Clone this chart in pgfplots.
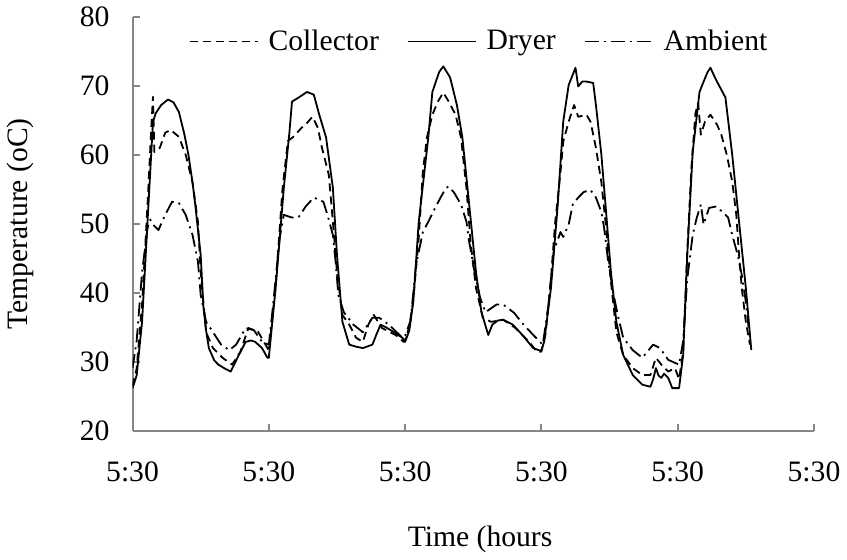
\documentclass[border=0pt]{standalone}
\usepackage{fontspec}
\setmainfont{Liberation Serif}
\usepackage{pgfplots}
\pgfplotsset{compat=1.18}
\definecolor{axgray}{RGB}{134,134,134}
\newcommand{\lab}{\fontsize{14.8}{17}\selectfont}
\begin{document}
\begin{tikzpicture}
\begin{axis}[
  scale only axis, width=340.5pt, height=207pt,
  xmin=0, xmax=5, ymin=20, ymax=80,
  axis x line=bottom, axis y line=left,
  axis line style={axgray, line width=1pt, -},
  tick style={axgray, line width=1pt},
  tick align=inside, major tick length=3.5pt,
  xtick={0,1,2,3,4,5},
  xticklabels={5:30,5:30,5:30,5:30,5:30,5:30},
  ytick={20,30,40,50,60,70,80},
  /pgf/number format/assume math mode=true,
  tick label style={font=\lab},
  xticklabel style={yshift=-12pt},
  yticklabel style={xshift=-8pt},
  xlabel={Time (hours},
  ylabel={Temperature (oC)},
  label style={font=\lab},
  xlabel style={at={(axis description cs:0.51,-0.262)}, anchor=center},
  ylabel style={at={(axis description cs:-0.165,0.5)}, anchor=center},
  legend columns=3,
  legend style={draw=none, fill=none, font=\lab,
    at={(axis description cs:0.51,0.94)}, anchor=center,
    /tikz/every odd column/.append style={column sep=3pt},
    /tikz/every even column/.append style={column sep=12pt}},
  legend image code/.code={\draw[#1] (0pt,0pt) -- (34pt,0pt);},
  every axis plot/.append style={black, line width=0.9pt, line join=round},
]
\addplot[dash pattern=on 4pt off 2.5pt] coordinates {
(0,26.5) (0.03,29) (0.07,38.3) (0.11,52.8) (0.14,64.8) (0.15,68.4) (0.16,60.4)
(0.2,61) (0.24,63.2) (0.28,63.6) (0.34,62.6) (0.39,60) (0.44,56) (0.48,50.3)
(0.5,43) (0.54,34.3) (0.59,32) (0.66,30.6) (0.73,29.6) (0.79,31.4) (0.85,34.9)
(0.92,34.4) (0.99,32) (1.0,31.5) (1.05,41) (1.1,55) (1.14,62) (1.18,62.6)
(1.24,63.9) (1.28,64.6) (1.32,65.5) (1.36,63.9) (1.39,61) (1.44,57.1) (1.47,50.3)
(1.5,43) (1.54,36.8) (1.59,35.4) (1.64,33.5) (1.69,32.9) (1.73,35.4) (1.77,36.8)
(1.83,34.9) (1.93,33.9) (1.99,32.9) (2.0,33.2) (2.03,35) (2.06,39) (2.1,48)
(2.13,57.5) (2.16,62.5) (2.2,65.8) (2.24,67.7) (2.28,69) (2.32,67.7) (2.37,65.8)
(2.41,62.5) (2.45,55.2) (2.48,47.4) (2.52,40.7) (2.57,36.4) (2.63,35.8) (2.72,36.1)
(2.81,34.9) (2.91,32.9) (2.97,31.4) (3.0,31.5) (3.03,34) (3.07,42) (3.1,50)
(3.14,57.5) (3.16,61.9) (3.2,64.8) (3.24,67.2) (3.27,65.5) (3.33,65.8) (3.36,64.8)
(3.4,61) (3.44,56) (3.47,50.3) (3.51,41.6) (3.55,34.3) (3.6,31) (3.67,29.1)
(3.74,28.1) (3.8,28.1) (3.84,30.6) (3.88,29.6) (3.93,28.6) (3.98,29.1) (4.01,27.5)
(4.04,31.5) (4.07,46) (4.1,58) (4.13,66) (4.15,67.5) (4.17,62.9) (4.2,64.8)
(4.24,65.8) (4.29,64.3) (4.32,62.9) (4.36,60) (4.4,56.1) (4.43,51.3) (4.45,45.5)
(4.47,40.7) (4.5,35.8) (4.53,32.5)
};
\addlegendentry{Collector}
\addplot[solid] coordinates {
(0,26.2) (0.03,28) (0.07,35.8) (0.11,50.3) (0.15,64.8) (0.17,66) (0.21,67.2)
(0.26,68) (0.3,67.6) (0.34,66.2) (0.38,63) (0.41,60) (0.44,56) (0.46,52.8)
(0.5,45.5) (0.52,38) (0.54,34.5) (0.56,32) (0.6,30.2) (0.63,29.6) (0.68,29)
(0.72,28.6) (0.75,29.8) (0.78,31) (0.83,32.9) (0.87,33.1) (0.9,32.9) (0.95,32)
(0.99,30.6) (1.0,30.6) (1.05,40.7) (1.11,55.2) (1.15,63) (1.17,67.7) (1.22,68.3)
(1.28,69.1) (1.33,68.7) (1.37,65.8) (1.42,62.5) (1.47,55.2) (1.5,45.5) (1.54,35.8)
(1.59,32.5) (1.64,32.2) (1.69,32) (1.76,32.5) (1.79,34) (1.82,35.4) (1.86,35)
(1.91,34.4) (1.98,33.5) (2.0,32.9) (2.03,34.5) (2.06,38.7) (2.1,50.3) (2.17,62.5)
(2.2,69.1) (2.25,72) (2.28,72.8) (2.33,71.2) (2.38,67.2) (2.42,62.5) (2.47,52.8)
(2.52,43) (2.56,37.2) (2.61,33.9) (2.64,35.4) (2.68,36) (2.72,36.1) (2.79,35.4)
(2.86,33.9) (2.94,32) (2.98,31.7) (3.0,31.7) (3.02,32.9) (3.07,40.7) (3.12,52.8)
(3.16,64.8) (3.2,70.1) (3.25,72.6) (3.27,69.9) (3.3,70.6) (3.33,70.6) (3.38,70.4)
(3.4,67.2) (3.44,60) (3.47,52.8) (3.51,43) (3.55,35.8) (3.6,31) (3.67,28.1)
(3.74,26.7) (3.8,26.4) (3.82,27.5) (3.84,29.1) (3.86,28) (3.88,27.7) (3.9,28.3)
(3.93,27.7) (3.96,26.2) (4.01,26.2) (4.04,31) (4.07,45.5) (4.11,60.4) (4.16,69.1)
(4.19,70.6) (4.22,72) (4.24,72.6) (4.28,70.9) (4.35,68.3) (4.4,60) (4.45,50.3)
(4.5,40.7) (4.54,31.7)
};
\addlegendentry{Dryer}
\addplot[dash pattern=on 7pt off 2.5pt on 1pt off 2.5pt] coordinates {
(0,29.1) (0.03,33) (0.07,43) (0.11,49.4) (0.13,50.6) (0.15,49.9) (0.19,49.1)
(0.24,51.3) (0.29,53.2) (0.34,53) (0.39,51.3) (0.44,48.4) (0.48,44.5) (0.5,39.7)
(0.54,35.8) (0.59,34.3) (0.65,32.5) (0.71,31.7) (0.76,32.5) (0.83,34.9) (0.89,34.6)
(0.95,32.9) (1.0,32.5) (1.03,38) (1.08,48) (1.11,51.3) (1.17,50.9) (1.22,51)
(1.27,52.5) (1.33,53.8) (1.4,53.2) (1.43,51.3) (1.47,48.4) (1.49,44.5) (1.51,39.7)
(1.55,37.2) (1.62,35.4) (1.69,34.3) (1.76,36.4) (1.81,36.4) (1.88,35.4) (1.98,33.5)
(2.0,33.8) (2.04,36) (2.08,44) (2.13,48.8) (2.17,50.3) (2.22,52.3) (2.26,53.8)
(2.3,55.2) (2.32,55.4) (2.36,54.5) (2.41,52.8) (2.45,50.3) (2.47,47.4) (2.51,43)
(2.55,39.3) (2.59,37.2) (2.67,38.3) (2.72,38.3) (2.8,37.1) (2.86,35.6) (2.94,33.9)
(3.01,32.5) (3.05,38) (3.09,46) (3.14,48.8) (3.16,48.1) (3.2,49.9) (3.23,52.8)
(3.27,53.8) (3.31,54.6) (3.36,54.9) (3.4,53.8) (3.44,51.7) (3.46,49.4) (3.49,44.5)
(3.53,39.7) (3.56,36.8) (3.6,33.5) (3.67,31.7) (3.74,30.6) (3.82,32.5) (3.87,32)
(3.93,30.3) (4.01,29.6) (4.04,33) (4.07,42) (4.11,48.4) (4.14,50.9) (4.17,52.8)
(4.19,49.9) (4.23,52.3) (4.28,52.5) (4.33,51.7) (4.37,50.9) (4.4,48.4) (4.44,45.5)
(4.47,42.6) (4.5,38.7) (4.52,35)
};
\addlegendentry{Ambient}
\end{axis}
\end{tikzpicture}
\end{document}
